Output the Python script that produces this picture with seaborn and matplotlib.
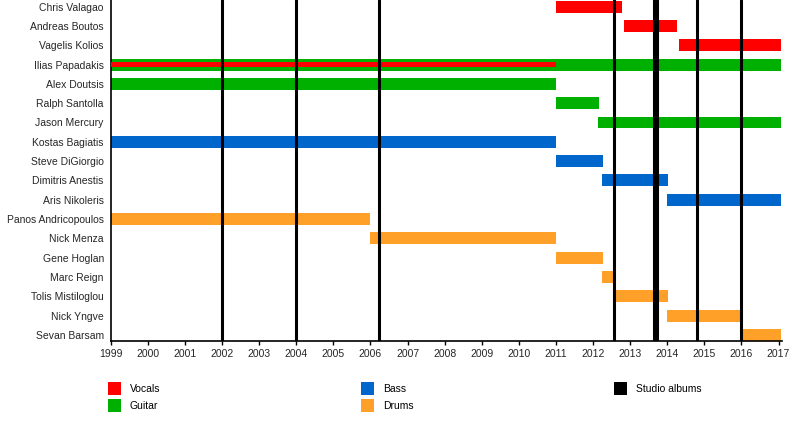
import matplotlib
matplotlib.use("Agg")
import matplotlib.pyplot as plt
import seaborn as sns
from matplotlib.patches import Rectangle

members = [
    "Chris Valagao", "Andreas Boutos", "Vagelis Kolios", "Ilias Papadakis",
    "Alex Doutsis", "Ralph Santolla", "Jason Mercury", "Kostas Bagiatis",
    "Steve DiGiorgio", "Dimitris Anestis", "Aris Nikoleris",
    "Panos Andricopoulos", "Nick Menza", "Gene Hoglan", "Marc Reign",
    "Tolis Mistiloglou", "Nick Yngve", "Sevan Barsam",
]

# one entry per membership span
span_member = [
    "Chris Valagao", "Andreas Boutos", "Vagelis Kolios",
    "Ilias Papadakis", "Alex Doutsis", "Ralph Santolla", "Jason Mercury",
    "Kostas Bagiatis", "Steve DiGiorgio", "Dimitris Anestis", "Aris Nikoleris",
    "Panos Andricopoulos", "Nick Menza", "Gene Hoglan", "Marc Reign",
    "Tolis Mistiloglou", "Nick Yngve", "Sevan Barsam",
]
span_role = [
    "Vocals", "Vocals", "Vocals",
    "Guitar", "Guitar", "Guitar", "Guitar",
    "Bass", "Bass", "Bass", "Bass",
    "Drums", "Drums", "Drums", "Drums", "Drums", "Drums", "Drums",
]
span_start = [
    2011.0, 2012.83, 2014.32,
    1999.0, 1999.0, 2011.0, 2012.13,
    1999.0, 2011.0, 2012.24, 2014.0,
    1999.0, 2006.0, 2011.0, 2012.24, 2012.57, 2014.0, 2016.0,
]
span_end = [
    2012.77, 2014.25, 2017.06,
    2017.06, 2011.0, 2012.16, 2017.06,
    2011.0, 2012.27, 2014.02, 2017.06,
    2006.0, 2011.0, 2012.27, 2012.57, 2014.02, 2016.0, 2017.06,
]

# secondary role drawn as a thin stripe inside the main bar
extra_member = ["Ilias Papadakis"]
extra_role = ["Vocals"]
extra_start = [1999.0]
extra_end = [2011.0]

albums = [2002.0, 2004.0, 2006.24, 2012.57, 2013.65, 2013.72, 2014.8, 2016.0]
years = list(range(1999, 2018))

role_colors = {
    "Vocals": "#ff0000",
    "Guitar": "#00b000",
    "Bass": "#0066cc",
    "Drums": "#ffa028",
}

sns.set_theme(style="white")
plt.rcParams["font.family"] = ["Liberation Sans", "DejaVu Sans"]

W, H = 800, 440
fig = plt.figure(figsize=(8, 4.4), dpi=100)
ax = fig.add_axes([110.7 / W, 1 - 341 / H, 670.8 / W, 341 / H])

row = {m: i for i, m in enumerate(members)}

ax.barh([row[m] for m in span_member],
        [e - s for s, e in zip(span_start, span_end)],
        left=span_start, height=0.62,
        color=[role_colors[r] for r in span_role], linewidth=0, zorder=2)
ax.barh([row[m] for m in extra_member],
        [e - s for s, e in zip(extra_start, extra_end)],
        left=extra_start, height=0.22,
        color=[role_colors[r] for r in extra_role], linewidth=0, zorder=3)

for a in albums:
    ax.axvline(a, color="black", linewidth=2.2, zorder=4)

ax.set_xlim(1999, 2017.08)
ax.set_ylim(17.31, -0.34)
ax.set_xticks(years)
ax.set_xticklabels([str(y) for y in years], fontsize=7.5)
ax.set_yticks(range(len(members)))
ax.set_yticklabels(members, fontsize=7.5)
ax.tick_params(axis="x", length=3, width=1, pad=2.5, color="black", direction="out", bottom=True)
ax.tick_params(axis="y", length=0, pad=5)
for side in ["top", "right"]:
    ax.spines[side].set_visible(False)
for side in ["left", "bottom"]:
    ax.spines[side].set_color("black")
    ax.spines[side].set_linewidth(1.2)
ax.grid(False)

# legend laid out in three columns like the original timeline
legend_items = [
    ("Vocals", role_colors["Vocals"], 108, 382),
    ("Guitar", role_colors["Guitar"], 108, 399),
    ("Bass", role_colors["Bass"], 361, 382),
    ("Drums", role_colors["Drums"], 361, 399),
    ("Studio albums", "black", 614, 382),
]
for label, col, px, py in legend_items:
    fig.add_artist(Rectangle((px / W, 1 - (py + 13) / H), 13 / W, 13 / H,
                             transform=fig.transFigure, color=col, linewidth=0))
    fig.text((px + 22) / W, 1 - (py + 6.5) / H, label, fontsize=7.5,
             va="center", ha="left", color="black")

fig.savefig("out.png", dpi=100)
